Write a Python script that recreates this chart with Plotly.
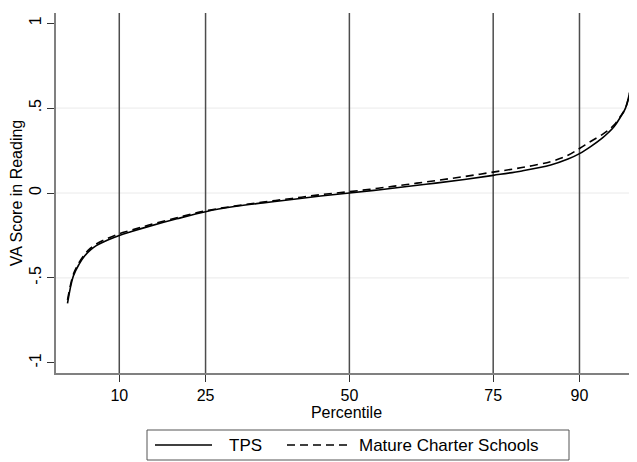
import plotly.graph_objects as go

# Percentile positions where the curves were read
percentiles = [1, 2, 3, 4, 5, 6, 8, 10, 12, 15, 20, 25, 30, 35, 40, 45, 50,
               55, 60, 65, 70, 75, 80, 85, 88, 90, 92, 94, 95, 96, 97, 98, 99]

tps = [-0.65, -0.49, -0.42, -0.37, -0.335, -0.31, -0.277, -0.25, -0.228, -0.198,
       -0.152, -0.11, -0.08, -0.058, -0.038, -0.018, 0.0, 0.018, 0.038, 0.058,
       0.08, 0.104, 0.13, 0.165, 0.2, 0.232, 0.275, 0.325, 0.355, 0.39, 0.44,
       0.5, 0.64]

mature_charter = [-0.63, -0.48, -0.41, -0.36, -0.325, -0.3, -0.267, -0.24, -0.22,
                  -0.19, -0.146, -0.105, -0.077, -0.053, -0.032, -0.01, 0.008,
                  0.028, 0.05, 0.073, 0.097, 0.123, 0.15, 0.185, 0.222, 0.262,
                  0.305, 0.345, 0.37, 0.4, 0.445, 0.5, 0.63]

x_ticks = [10, 25, 50, 75, 90]
y_ticks = [-1, -0.5, 0, 0.5, 1]
y_tick_labels = ["-1", "-.5", "0", ".5", "1"]
y_grid = [-0.5, 0, 0.5]
series_names = ["TPS", "Mature Charter Schools"]

FONT = "Liberation Sans, Arial, sans-serif"
OFF = 8  # page body margin in the browser
W, H = 637 - OFF, 462 - OFF
ML, MR, MT, MB = 56 - OFF, 0, 13 - OFF, 89
PW, PH = W - ML - MR, H - MT - MB

def px_x(p):
    # window pixel -> paper x
    return (p - OFF - ML) / PW

def px_y(p):
    # window pixel -> paper y
    return (H - MB - (p - OFF)) / PH

fig = go.Figure()
fig.add_trace(go.Scatter(x=percentiles, y=tps, mode="lines", name=series_names[0],
                         line=dict(color="black", width=1.6, shape="spline"),
                         showlegend=False, cliponaxis=False))
fig.add_trace(go.Scatter(x=percentiles, y=mature_charter, mode="lines", name=series_names[1],
                         line=dict(color="black", width=1.6, dash="8px,5px", shape="spline"),
                         showlegend=False, cliponaxis=False))

shapes = []
for g in y_grid:
    shapes.append(dict(type="line", xref="paper", yref="y", x0=0, x1=1, y0=g, y1=g,
                       line=dict(color="#eaeaea", width=1), layer="below"))
for v in x_ticks:
    shapes.append(dict(type="line", xref="x", yref="paper", x0=v, x1=v, y0=0, y1=1,
                       line=dict(color="#4d4d4d", width=1.5), layer="below"))

# Legend box (Stata style)
shapes.append(dict(type="rect", xref="paper", yref="paper",
                   x0=px_x(147), x1=px_x(569), y0=px_y(460), y1=px_y(430),
                   line=dict(color="#555555", width=1), fillcolor="white"))
ly = px_y(445)
shapes.append(dict(type="line", xref="paper", yref="paper", x0=px_x(155), x1=px_x(212),
                   y0=ly, y1=ly, line=dict(color="black", width=1.5)))
shapes.append(dict(type="line", xref="paper", yref="paper", x0=px_x(287), x1=px_x(350),
                   y0=ly, y1=ly, line=dict(color="black", width=1.5, dash="8px,5px")))

annotations = [
    dict(x=px_x(227), y=ly, xref="paper", yref="paper", text=series_names[0],
         showarrow=False, xanchor="left", yanchor="middle",
         font=dict(family=FONT, size=17, color="black")),
    dict(x=px_x(357), y=ly, xref="paper", yref="paper", text=series_names[1],
         showarrow=False, xanchor="left", yanchor="middle",
         font=dict(family=FONT, size=17, color="black")),
]

fig.update_layout(
    width=W, height=H,
    margin=dict(l=ML, r=MR, t=MT, b=MB, autoexpand=False),
    paper_bgcolor="white", plot_bgcolor="white",
    font=dict(family=FONT, size=16, color="black"),
    shapes=shapes, annotations=annotations,
    showlegend=False,
    xaxis=dict(range=[-1, 100], tickmode="array", tickvals=x_ticks,
               ticktext=[str(t) for t in x_ticks], automargin=False,
               showgrid=False, zeroline=False, showline=True,
               linecolor="#808080", linewidth=1.5,
               ticks="outside", ticklen=7, tickcolor="#333333", tickwidth=1,
               tickfont=dict(family=FONT, size=16),
               title=dict(text="Percentile", standoff=0,
                          font=dict(family=FONT, size=16))),
    yaxis=dict(range=[-1.06, 1.06], tickmode="array", tickvals=y_ticks,
               ticktext=y_tick_labels, tickangle=-90, automargin=False,
               showgrid=False, zeroline=False, showline=True,
               linecolor="#808080", linewidth=1.5,
               ticks="outside", ticklen=7, tickcolor="#333333", tickwidth=1,
               tickfont=dict(family=FONT, size=16),
               title=dict(text="VA Score in Reading", standoff=0,
                          font=dict(family=FONT, size=16))),
)

fig.write_html("out.html")
